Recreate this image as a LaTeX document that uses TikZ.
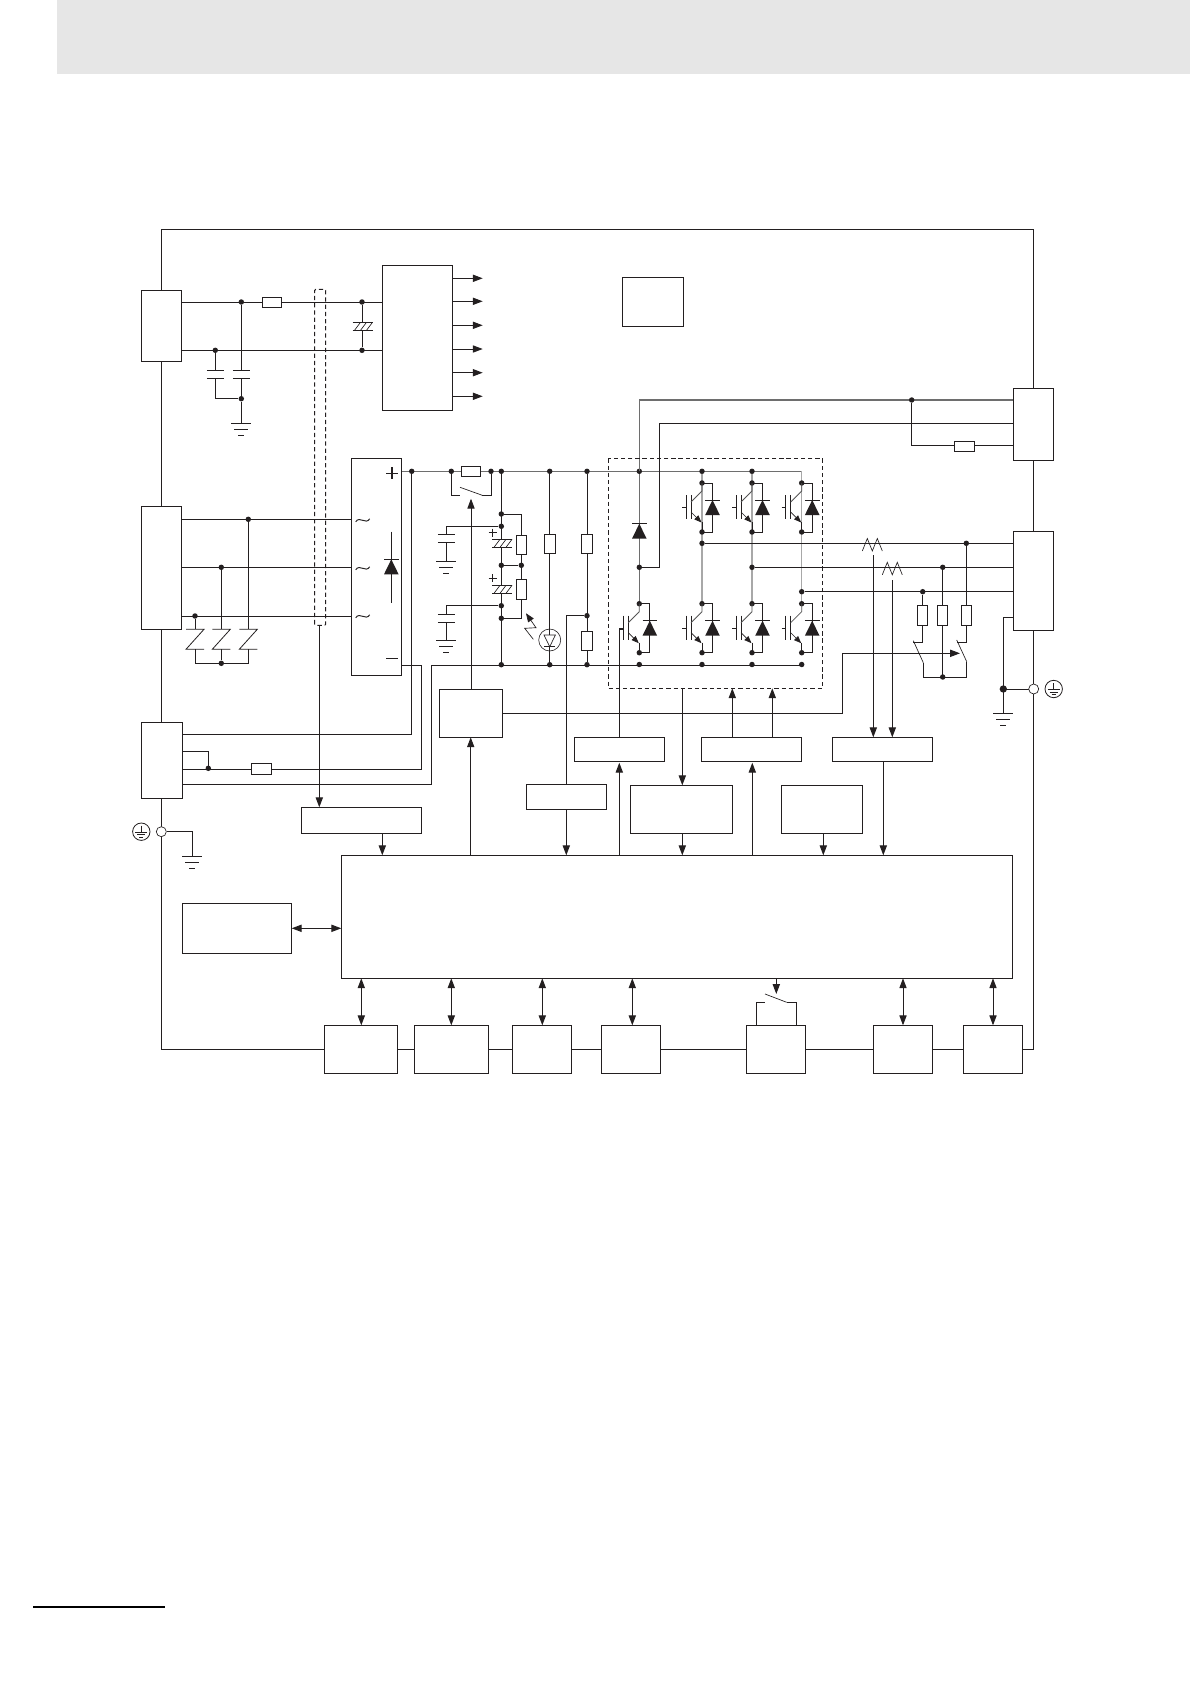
\documentclass[tikz,border=0pt]{standalone}
\usetikzlibrary{arrows.meta,calc}
\definecolor{ink}{HTML}{231F20}
\definecolor{bandgray}{HTML}{E6E6E6}
\definecolor{busgray}{HTML}{6E6E6E}
\definecolor{legray}{HTML}{A8A8A8}
\definecolor{diaggray}{HTML}{555555}
\tikzset{
  wire/.style={draw=ink,line width=0.72pt},
  thin wire/.style={draw=ink,line width=0.5pt},
  bus/.style={draw=busgray,line width=0.8pt},
  leg/.style={draw=legray,line width=0.8pt},
  box/.style={draw=ink,line width=0.72pt,fill=white,rectangle,inner sep=0pt,outer sep=0pt},
  res/.style={box},
  dashbox/.style={draw=ink,line width=0.72pt,dashed,dash pattern=on 3.2pt off 2.2pt},
  dot/.style={circle,fill=ink,inner sep=0pt,minimum size=4.1pt},
  hole/.style={circle,draw=ink,fill=white,line width=0.5pt,inner sep=0pt,minimum size=7.5pt},
  tipstyle/.tip={Stealth[length=7.4pt,width=5.4pt,inset=0pt]},
  arr/.style={wire,-{tipstyle}},
  dbl/.style={wire,{tipstyle}-{tipstyle}}
}
% named rectangle from corner to corner
\newcommand\bx[6][box]{%
  \pgfmathsetmacro\bw{(#5-#3)*0.75}\pgfmathsetmacro\bh{(#6-#4)*0.75}%
  \pgfmathsetmacro\bmx{(#3+#5)/2}\pgfmathsetmacro\bmy{(#4+#6)/2}%
  \node[#1,minimum width=\bw pt,minimum height=\bh pt] (#2) at (\bmx,\bmy) {};}
\newcommand\dt[3]{\node[dot] (#1) at (#2,#3) {};}
% ground symbol: x, y of top bar
\newcommand\gnd[2]{%
  \draw[wire] (#1-10,#2) -- (#1+10,#2);
  \draw[wire] (#1-7,#2+6) -- (#1+7,#2+6);
  \draw[wire] (#1-3,#2+12) -- (#1+3,#2+12);}
% protective-earth symbol
\newcommand\pe[2]{%
  \draw[thin wire,line width=0.6pt] (#1,#2) circle (8.7);
  \draw[thin wire] (#1,#2-6) -- (#1,#2+0.5);
  \draw[thin wire] (#1-6,#2+0.5) -- (#1+6,#2+0.5);
  \draw[thin wire] (#1-4,#2+3) -- (#1+4,#2+3);
  \draw[thin wire] (#1-2,#2+5.5) -- (#1+2,#2+5.5);}
% plain capacitor: x, y of upper plate
\newcommand\capa[2]{%
  \draw[wire] (#1-8.5,#2) -- (#1+8.5,#2);
  \draw[wire] (#1-8.5,#2+8) -- (#1+8.5,#2+8);}
% hatched capacitor: x, y of upper plate
\newcommand\hcap[2]{%
  \fill[white] (#1-10,#2) rectangle (#1+10,#2+8);
  \draw[wire] (#1-10,#2) -- (#1+10,#2);
  \draw[wire] (#1-10,#2+8) -- (#1+10,#2+8);
  \foreach \hh in {-8,-2,4} {\draw[thin wire] (#1+\hh,#2+8) -- (#1+\hh+6,#2);}}
% varistor: centre x
\newcommand\vari[1]{%
  \draw[thin wire,line width=0.6pt] (#1-9,629.3) -- (#1+9,629.3) -- (#1-9,649.3) -- (#1+9,649.3);}
% diode pointing up: x, y of bar
\newcommand\diode[2]{%
  \fill[ink] (#1,#2) -- (#1+7.3,#2+15) -- (#1-7.3,#2+15) -- cycle;
  \draw[thin wire] (#1-7.3,#2) -- (#1+7.3,#2);}
% IGBT + diode: x of collector, y of top dot, y of lower dot
\newcommand\igbt[3]{%
  \dt{}{#1}{#2}\dt{}{#1}{#3}
  \draw[wire] (#1,#2) -- ++(10.5,0) -- (#1+10.5,#3) -- (#1,#3);
  \diode{#1+10.5}{#2+17}
  \draw[thin wire,line width=0.6pt] (#1-11,#2+12) -- (#1-11,#2+36);
  \draw[thin wire,line width=0.6pt] (#1-16,#2+12) -- (#1-16,#2+36);
  \draw[thin wire] (#1-20,#2+24.5) -- (#1-16,#2+24.5);
  \draw[draw=diaggray,line width=0.6pt] (#1,#2) -- (#1,#2+8) -- (#1-11,#2+19);
  \draw[thin wire,-{Stealth[length=5.5pt,width=4.2pt,inset=0pt]}] (#1-11,#2+29) -- (#1-0.5,#2+39.5);
  \draw[wire] (#1,#2+39) -- (#1,#3);}
% current-sensor zigzag
\newcommand\zig[2]{%
  \draw[thin wire] (#1,#2+6.5) -- (#1+5,#2-6) -- (#1+10,#2+6.5) -- (#1+15,#2-6) -- (#1+20,#2+6.5);}
% mains tilde
\newcommand\tld[2]{%
  \draw[wire] (#1-7,#2+1.5) .. controls (#1-3,#2-5) and (#1+3,#2+5) .. (#1+7,#2-1.5);}
\begin{document}
\begin{tikzpicture}[x=0.75pt,y=-0.75pt]
\useasboundingbox (0,0) rectangle (1190,1684);
\fill[white] (0,0) rectangle (1190,1684);
\fill[bandgray] (57.3,0) rectangle (1190,73.7);
\draw[black,line width=1.5pt] (33,1606.7) -- (165,1606.7);

% frame
\draw[wire] (161.3,229.3) rectangle (1033.5,1049.3);

% upper-left supply
\draw[wire] (181.7,302) -- (382.3,302);
\draw[wire] (181.7,350.3) -- (382.3,350.3);
\dt{n1}{241.3}{302}\dt{n2}{215.3}{350.3}\dt{n3}{241.3}{398.7}
\dt{n4}{362}{302}\dt{n5}{362}{350.3}
\draw[wire] (n1) -- (241.3,370.3);
\draw[wire] (241.3,378.3) -- (n3) -- (241.3,423.3);
\draw[wire] (n2) -- (215.3,370.3);
\draw[wire] (215.3,378.3) -- (215.3,398.7) -- (n3);
\capa{215.3}{370.3}\capa{241.3}{370.3}
\gnd{241.3}{423.3}
\draw[wire] (n4) -- (n5);
\hcap{362.5}{322.3}

% AC lines
\draw[wire] (181.7,519.3) -- (351.3,519.3);
\draw[wire] (181.7,567.3) -- (351.3,567.3);
\draw[wire] (181.7,616.3) -- (351.3,616.3);
\dt{a1}{248.3}{519.3}\dt{a2}{221.3}{567.3}\dt{a3}{195}{616}
\draw[wire] (a1) -- (248.3,629.3);
\draw[wire] (a2) -- (221.3,629.3);
\draw[wire] (a3) -- (195,629.3);
\vari{195}\vari{221.3}\vari{248.3}
\dt{a4}{221.3}{663.3}
\draw[wire] (195,649.3) -- (195,663.3) -- (248.3,663.3) -- (248.3,649.3);
\draw[wire] (a4) -- (221.3,649.3);

% P bus
\draw[bus] (401.7,471.3) -- (801.7,471.3);
\draw[wire] (401.7,665.3) -- (421.7,665.3) -- (421.7,769.3) -- (182.7,769.3);
\draw[wire] (411.7,471.3) -- (411.7,734.3) -- (182.7,734.3);
\draw[wire] (801.7,665.3) -- (431.3,665.3) -- (431.3,784.3) -- (182.7,784.3);
\draw[wire] (182.7,751.3) -- (208.3,751.3) -- (208.3,768.3);
\dt{p0}{208.3}{768.3}
\dt{p1}{411.7}{471.3}\dt{p2}{451.3}{471.3}\dt{p3}{491}{471.3}\dt{p4}{501.3}{471.3}
\dt{p5}{549.7}{471.3}\dt{p6}{587}{471.3}\dt{p7}{639.3}{471.3}\dt{p8}{702}{471.3}\dt{p9}{752}{471.3}
\draw[wire] (p2) -- (451.3,495.3) -- (460,495.3);
\draw[thin wire] (460,487.3) -- (482.3,495.3);
\draw[wire] (481.7,495.3) -- (491,495.3) -- (p3);
\bx[res]{r2}{461.3}{466.3}{480.7}{476.3}

% capacitor bank
\draw[wire] (p4) -- (501.3,665.3);
\dt{c1}{501.3}{514}\dt{c2}{501.3}{526.3}\dt{c3}{501.3}{565.3}\dt{c4}{501.3}{605.7}\dt{c5}{501.3}{618.3}\dt{c6}{501.3}{664.7}
\draw[wire] (c2) -- (446.3,526.3) -- (446.3,534.3);
\draw[wire] (446.3,542.3) -- (446.3,561.3);
\capa{446.3}{534.3}\gnd{446.3}{561.3}
\draw[wire] (c4) -- (446.3,605.7) -- (446.3,614);
\draw[wire] (446.3,622) -- (446.3,640.3);
\capa{446.3}{614}\gnd{446.3}{640.3}
\hcap{502}{539.3}\hcap{502}{585.3}
\draw[thin wire,line width=0.6pt] (488.7,532.7) -- (496.7,532.7) (492.7,528.7) -- (492.7,536.7);
\draw[thin wire,line width=0.6pt] (488.7,578) -- (496.7,578) (492.7,574) -- (492.7,582);
\dt{c7}{521.3}{565.3}
\draw[wire] (c1) -- (521.3,514) -- (521.3,618.3) -- (c5);
\draw[wire] (c3) -- (c7);
\bx[res]{r3}{516.3}{535.3}{526.7}{554.7}
\bx[res]{r4}{516.3}{579.3}{526.7}{599.3}

% bleeder + LED
\dt{l1}{549.7}{664.7}
\draw[wire] (p5) -- (l1);
\bx[res]{r5}{544.3}{534.3}{555.7}{553.7}
\node[circle,draw=ink,fill=white,line width=0.45pt,minimum size=16.5pt,inner sep=0pt] (led) at (549.7,640) {};
\draw[wire] (549.7,629) -- (549.7,651);
\draw[thin wire,fill=white] (544,635) -- (555.4,635) -- (549.7,646.7) -- cycle;
\draw[thin wire] (544,646.7) -- (555.4,646.7);
\draw[thin wire,-{Stealth[length=6.5pt,width=5pt,inset=0pt]}] (533.3,639.3) -- (524.7,628.3) -- (536,627.7) -- (526,613.3);

% resistor divider
\dt{d1}{587}{615.7}\dt{d2}{587}{664.7}
\draw[wire] (p6) -- (d2);
\bx[res]{r6}{581.7}{534.3}{592.7}{553.7}
\bx[res]{r7}{581.7}{631.7}{592.7}{650.7}

% feedback to regenerative and sense
\draw[bus] (639.3,471.3) -- (639.3,400) -- (1013.3,400);
\draw[wire] (1013.3,423.3) -- (659.3,423.3) -- (659.3,567.3) -- (639.3,567.3);
\dt{f1}{911.7}{400}
\draw[wire] (f1) -- (911.7,445.3) -- (1013.3,445.3);
\bx[res]{r8}{954.3}{441.3}{974.7}{451.7}

% brake leg
\draw[bus] (p7) -- (639.3,603.7);
\dt{f2}{639.3}{567.3}
\diode{639.3}{523.7}
% inverter legs
\draw[leg] (p8) -- (702,603.7);
\draw[leg] (p9) -- (752,603.7);
\draw[leg] (801.7,471.3) -- (801.7,603.7);
\igbt{702}{483}{532}\igbt{752}{483}{532}\igbt{801.7}{483}{532}
\igbt{639.3}{603.7}{652.7}\igbt{702}{603.7}{652.7}\igbt{752}{603.7}{652.7}\igbt{801.7}{603.7}{652.7}
\dt{}{639.3}{664.5}\dt{}{702}{664.5}\dt{}{752}{664.5}\dt{}{801.7}{664.5}
\dt{u1}{702}{543.3}\dt{u2}{752}{567.3}\dt{u3}{801.7}{591.7}
\dt{u4}{966.3}{543.3}\dt{u5}{942.7}{567.3}\dt{u6}{922.7}{591.7}
\draw[wire] (u1) -- (1013.3,543.3);
\draw[wire] (u2) -- (1013.3,567.3);
\draw[wire] (u3) -- (1013.3,591.7);
\zig{862.3}{544.5}\zig{882.3}{568.3}

% dashed module
\draw[dashbox] (608.3,458.3) rectangle (822.3,688.3);
\draw[dashbox,rounded corners=0.8pt] (314.7,625.3) -- (314.7,289.3) -- (325.7,289.3) -- (325.7,625.3) -- cycle;

% output load
\draw[wire] (u6) -- (922.7,642.3) -- (913.3,642.3);
\draw[thin wire] (913.3,640.7) -- (923.3,662.7);
\draw[wire] (923.3,662.7) -- (923.3,677) -- (966.3,677) -- (966.3,661.7);
\draw[thin wire] (966.7,661.7) -- (956.7,640);
\draw[wire] (u5) -- (942.7,677);
\draw[wire] (u4) -- (966.3,642.3) -- (956.7,642.3);
\dt{u7}{942.7}{677}
\bx[res]{r9}{917.3}{605.3}{927.7}{625.7}
\bx[res]{r10}{937.3}{605.3}{947.7}{625.7}
\bx[res]{r11}{961.3}{605.3}{971.7}{625.7}

% earth right
\draw[wire] (1013.3,617.3) -- (1003.3,617.3) -- (1003.3,713.3);
\draw[wire] (1003.3,689) -- (1033.7,689);
\node[circle,fill=ink,inner sep=0pt,minimum size=5.5pt] (e1) at (1003.3,689) {};
\node[hole] (e2) at (1033.7,689) {};
\pe{1053.7}{689}
\gnd{1003.3}{713.3}

% earth left
\node[hole] (e3) at (161.3,831.7) {};
\pe{141.3}{831.7}
\draw[wire] (e3) -- (192.3,831.7) -- (192.3,856.3);
\gnd{192.3}{856.3}

% boxes
\bx{j1}{141.3}{290.3}{181.7}{361.3}
\bx{j2}{141.3}{506.3}{181.7}{629.3}
\bx{j3}{141.3}{722.3}{182.7}{798.3}
\bx{j4}{1013.3}{388.3}{1053.7}{460.3}
\bx{j5}{1013.3}{531.3}{1053.7}{630.3}
\bx[res]{r1}{262.3}{297.3}{281.7}{307.7}
\bx[res]{r12}{251.3}{763.3}{271.7}{774.7}
\bx{psu}{382.3}{265.3}{452.7}{410.3}
\bx{tag}{622.3}{277.3}{683.3}{326.3}
\bx{rect}{351.3}{458.3}{401.7}{675.3}
\bx{rel}{439.3}{689.3}{502.3}{737.3}
\bx{vbox}{526.3}{784.3}{606.3}{809.3}
\bx{brk}{574.3}{737.3}{664.3}{761.3}
\bx{gate}{701.3}{737.3}{801.3}{761.3}
\bx{cur}{832.3}{737.3}{932.3}{761.3}
\bx{ovl}{630.3}{785.3}{732.3}{833.3}
\bx{temp}{781.3}{785.3}{862.3}{833.3}
\bx{iso}{301.3}{807.3}{421.7}{833.3}
\bx{side}{182.3}{903.3}{291.7}{953.3}
\bx{main}{341.3}{855.3}{1012.7}{978.3}
\bx{b1}{324.3}{1025.3}{397.3}{1073.3}
\bx{b2}{414.3}{1025.3}{488.3}{1073.3}
\bx{b3}{512.3}{1025.3}{571.3}{1073.3}
\bx{b4}{601.3}{1025.3}{660.3}{1073.3}
\bx{b5}{746.3}{1025.3}{805.3}{1073.3}
\bx{b6}{873.3}{1025.3}{932.3}{1073.3}
\bx{b7}{963.3}{1025.3}{1022.3}{1073.3}

% rectifier symbols
\tld{362.7}{520.3}\tld{362.7}{568.3}\tld{362.7}{616.3}
\draw[wire,line width=0.95pt] (386,473.3) -- (398,473.3) (392,467.3) -- (392,479.3);
\draw[wire,line width=0.95pt] (386,658.3) -- (398,658.3);
\draw[thin wire,line width=0.65pt] (391.3,531.7) -- (391.3,602.7);
\diode{391.3}{559.3}

% PSU outputs
\foreach \yy in {278.3,301.3,325.3,349,372.7,396.3}
  \draw[arr] (452.7,\yy) -- (482.7,\yy);

% ISO sense line
\draw[arr] (319.3,625.3) -- (319.3,807.3);
\draw[arr] (382.3,0 |- iso.south) -- (382.3,0 |- main.north);
% relay
\draw[arr] (471,0 |- rel.north) -- (471,498.7);
\draw[arr] (470.7,0 |- main.north) -- (470.7,0 |- rel.south);
\draw[wire] (502.3,713.3) -- (842.3,713.3) -- (842.3,653.3);
\draw[arr] (842.3,653.3) -- (960,653.3);
% voltage sense
\draw[wire] (d1) -- (566.3,615.7) -- (566.3,0 |- vbox.north);
\draw[arr] (566.3,0 |- vbox.south) -- (566.3,0 |- main.north);
% gate brake
\draw[wire] (619.3,629.3) -- (619.3,0 |- brk.north);
\draw[wire] (619.3,629.3) -- (623.3,629.3);
\draw[arr] (619.3,0 |- main.north) -- (619.3,762.7);
% overcurrent
\draw[arr] (682.3,688.3) -- (682.3,0 |- ovl.north);
\draw[arr] (682.3,0 |- ovl.south) -- (682.3,0 |- main.north);
% gate drive
\draw[arr] (732.3,0 |- gate.north) -- (732.3,688.3);
\draw[arr] (772.3,0 |- gate.north) -- (772.3,688.3);
\draw[arr] (752.3,0 |- main.north) -- (752.3,762.7);
% temperature
\draw[arr] (823.3,0 |- temp.south) -- (823.3,0 |- main.north);
% current sense
\draw[arr] (873.3,555) -- (873.3,0 |- cur.north);
\draw[arr] (892.3,580) -- (892.3,0 |- cur.north);
\draw[arr] (883.3,0 |- cur.south) -- (883.3,0 |- main.north);
% side box
\draw[dbl] (side.east) -- (side.east -| main.west);
% bottom
\draw[dbl] (361.3,0 |- main.south) -- (361.3,0 |- b1.north);
\draw[dbl] (451.3,0 |- main.south) -- (451.3,0 |- b2.north);
\draw[dbl] (542.3,0 |- main.south) -- (542.3,0 |- b3.north);
\draw[dbl] (632.3,0 |- main.south) -- (632.3,0 |- b4.north);
\draw[dbl] (903,0 |- main.south) -- (903,0 |- b6.north);
\draw[dbl] (993,0 |- main.south) -- (993,0 |- b7.north);
\draw[arr] (776.3,0 |- main.south) -- (776.3,994);
\draw[wire] (756.3,0 |- b5.north) -- (756.3,1002.3) -- (765,1002.3);
\draw[thin wire] (765,994) -- (786.7,1002.3);
\draw[wire] (786.7,1002.3) -- (796.3,1002.3) -- (796.3,0 |- b5.north);
\end{tikzpicture}
\end{document}
